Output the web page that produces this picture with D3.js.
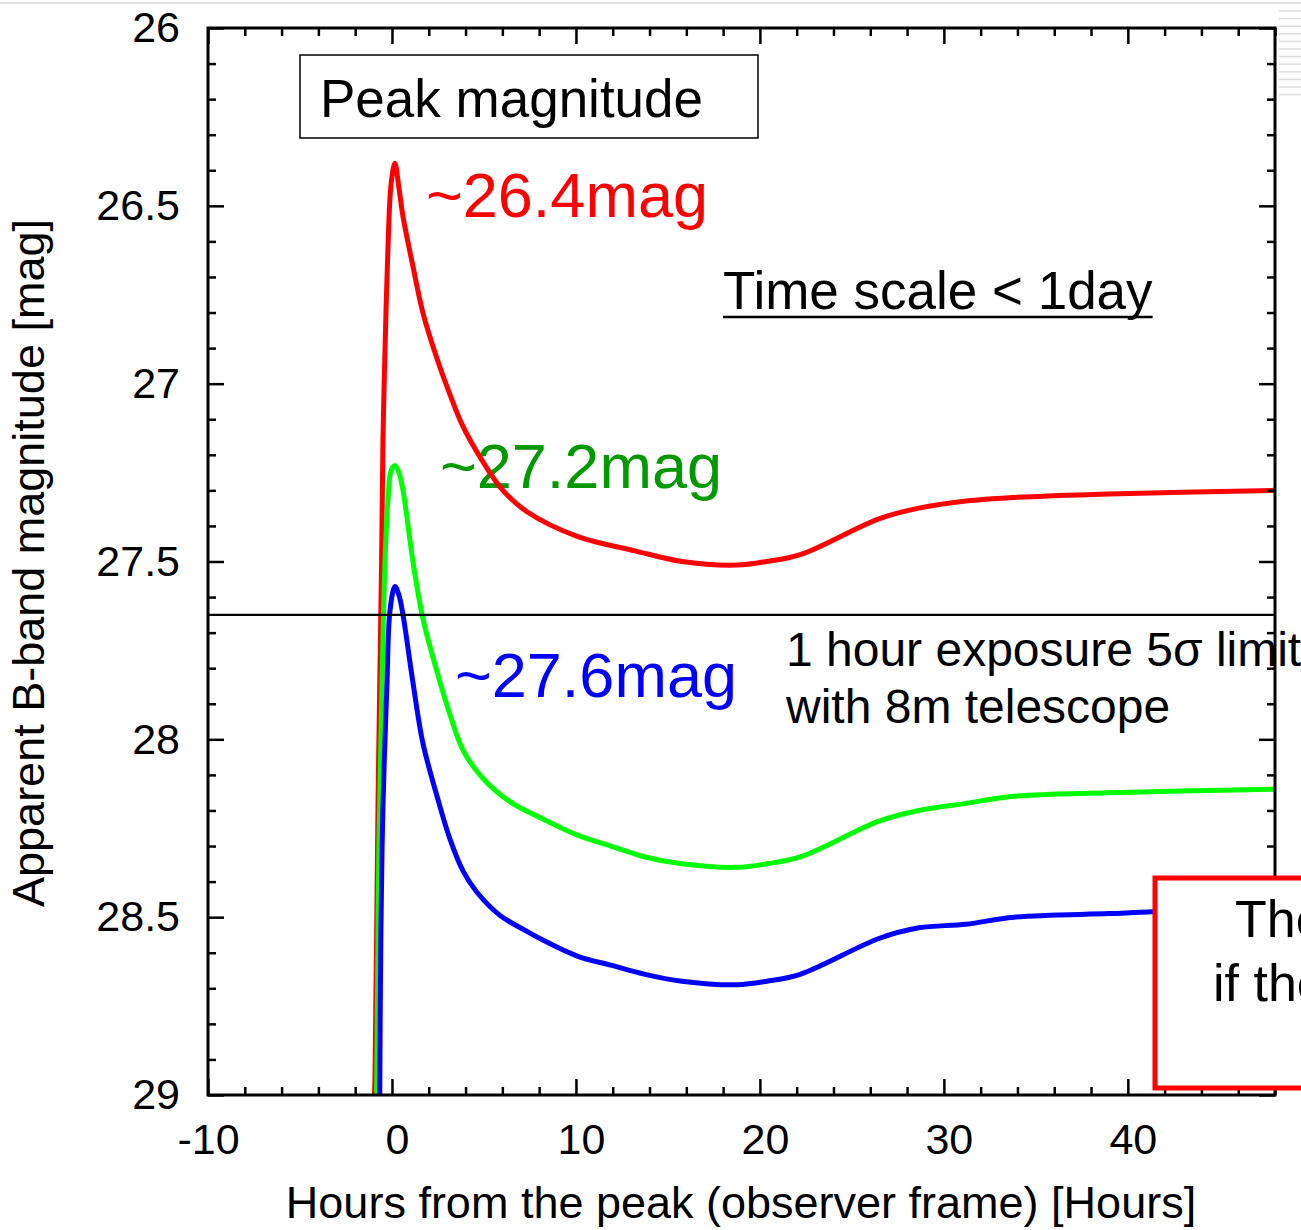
<!DOCTYPE html>
<html>
<head>
<meta charset="utf-8">
<script src="https://cdn.jsdelivr.net/npm/d3@7"></script>
<style>
    body { margin: 0; background: white; }
    svg { display: block; }
    text { font-family: "Liberation Sans", Arial, sans-serif; }
</style>
</head>
<body>
<div id="chart"></div>
<script>
// light curves (hours from peak, apparent B mag)
const hoursRed = [-0.98, -0.92, -0.76, -0.57, -0.49, -0.38, -0.22, -0.05, 0.16, 0.38, 0.6, 1.14, 1.68, 2.45, 3.15, 3.86, 4.95, 6.03, 7.34, 10.11, 13.21, 15.76, 18.75, 20.38, 22.23, 26.47, 28.64, 31.2, 33.8, 38.97, 48];
const magRed = [29.05, 28.94, 28.19, 27.52, 27.16, 26.91, 26.62, 26.44, 26.38, 26.45, 26.53, 26.67, 26.80, 26.93, 27.03, 27.12, 27.22, 27.30, 27.36, 27.43, 27.47, 27.50, 27.51, 27.50, 27.48, 27.38, 27.35, 27.33, 27.32, 27.31, 27.30];

const hoursGreen = [-0.85, -0.82, -0.71, -0.54, -0.38, -0.22, -0.05, 0.16, 0.38, 0.6, 1.14, 1.68, 2.45, 3.15, 3.86, 4.95, 6.41, 8.04, 10.11, 11.9, 13.7, 15.76, 18.75, 20.38, 22.23, 26.47, 28.64, 31.2, 33.8, 38.97, 48];
const magGreen = [29.05, 28.94, 28.30, 27.84, 27.50, 27.33, 27.245, 27.23, 27.25, 27.30, 27.50, 27.66, 27.81, 27.93, 28.03, 28.11, 28.175, 28.22, 28.27, 28.30, 28.33, 28.35, 28.36, 28.35, 28.33, 28.23, 28.20, 28.18, 28.16, 28.15, 28.14];

const hoursBlue = [-0.67, -0.6, -0.49, -0.27, -0.11, 0.16, 0.38, 0.6, 1.14, 1.68, 2.45, 3.15, 3.86, 4.62, 5.87, 7.34, 8.04, 10.11, 11.9, 13.7, 15.76, 18.75, 20.38, 22.23, 26.47, 28.64, 31.2, 33.8, 38.97, 41.4, 48];
const magBlue = [29.05, 28.53, 28.19, 27.84, 27.64, 27.57, 27.595, 27.65, 27.84, 28.01, 28.16, 28.28, 28.37, 28.43, 28.495, 28.54, 28.56, 28.61, 28.635, 28.66, 28.68, 28.69, 28.68, 28.66, 28.56, 28.53, 28.52, 28.50, 28.49, 28.485, 28.48];

const seriesColors = ["#ff0000", "#00ff00", "#0000ff"];
const peakLabels = ["~26.4mag", "~27.2mag", "~27.6mag"];
const labelColors = ["#ff0000", "#009a00", "#0000ff"];

const xMajorTicks = [-10, 0, 10, 20, 30, 40];
const yMajorTicks = [26, 26.5, 27, 27.5, 28, 28.5, 29];
const xTickLabels = ["-10", "0", "10", "20", "30", "40"];
const yTickLabels = ["26", "26.5", "27", "27.5", "28", "28.5", "29"];

const limitMag = 27.65;

const width = 1301, height = 1230;
const plot = { left: 208, right: 1275, top: 28, bottom: 1095 };

const svg = d3.select("#chart")
    .append("svg")
    .attr("width", width)
    .attr("height", height);

// slide artifacts at the edges of the screenshot
svg.append("line")
    .attr("x1", 0).attr("x2", width).attr("y1", 3).attr("y2", 3)
    .style("stroke", "#e2e2e2").style("stroke-width", 2);
svg.selectAll("line.stripe")
    .data(d3.range(12))
    .enter()
    .append("line")
    .attr("class", "stripe")
    .attr("x1", 1279).attr("x2", width)
    .attr("y1", d => 11 + d * 7.6).attr("y2", d => 11 + d * 7.6)
    .style("stroke", "#dedede").style("stroke-width", 1.5);

const x = d3.scaleLinear().domain([-10, 48]).range([plot.left, plot.right]);
const y = d3.scaleLinear().domain([26, 29]).range([plot.top, plot.bottom]);

svg.append("clipPath")
    .attr("id", "plot-clip")
    .append("rect")
    .attr("x", plot.left).attr("y", plot.top)
    .attr("width", plot.right - plot.left).attr("height", plot.bottom - plot.top);

// annotations under the curves
svg.append("rect")
    .attr("x", 300).attr("y", 55).attr("width", 458).attr("height", 83)
    .style("fill", "white").style("stroke", "black").style("stroke-width", 1.5);
svg.append("text")
    .attr("x", 320).attr("y", 117)
    .style("font-size", "53px")
    .text("Peak magnitude");

const peakPos = [[426, 217], [440, 488], [455, 697]];
svg.selectAll("text.peak")
    .data(peakLabels)
    .enter()
    .append("text")
    .attr("class", "peak")
    .attr("x", (d, i) => peakPos[i][0])
    .attr("y", (d, i) => peakPos[i][1])
    .style("font-size", "63px")
    .style("fill", (d, i) => labelColors[i])
    .text(d => d);

const ts = svg.append("text")
    .attr("x", 723).attr("y", 309)
    .style("font-size", "53px")
    .text("Time scale < 1day");
const tsLen = ts.node().getComputedTextLength();
svg.append("line")
    .attr("x1", 723).attr("x2", 723 + tsLen)
    .attr("y1", 317).attr("y2", 317)
    .style("stroke", "black").style("stroke-width", 2.5);

svg.append("text")
    .attr("x", 786).attr("y", 666)
    .style("font-size", "48px")
    .text("1 hour exposure 5σ limit");
svg.append("text")
    .attr("x", 786).attr("y", 723)
    .style("font-size", "48px")
    .text("with 8m telescope");

// curves
const curves = [
    hoursRed.map((h, i) => [h, magRed[i]]),
    hoursGreen.map((h, i) => [h, magGreen[i]]),
    hoursBlue.map((h, i) => [h, magBlue[i]])
];
const line = d3.line()
    .x(d => x(d[0]))
    .y(d => y(d[1]))
    .curve(d3.curveCatmullRom.alpha(0.5));

svg.append("g")
    .attr("clip-path", "url(#plot-clip)")
    .selectAll("path")
    .data(curves)
    .enter()
    .append("path")
    .attr("d", line)
    .style("fill", "none")
    .style("stroke", (d, i) => seriesColors[i])
    .style("stroke-width", 5)
    .style("stroke-linejoin", "round");

// 5 sigma limit
svg.append("line")
    .attr("x1", x(-10)).attr("x2", x(48))
    .attr("y1", y(limitMag)).attr("y2", y(limitMag))
    .style("stroke", "black").style("stroke-width", 2.2);

// axes: inward ticks on all four sides
const major = 16, minor = 8;
function styleAxis(g) {
    g.select(".domain").remove();
    g.selectAll("line").style("stroke", "black").style("stroke-width", 2.5);
    g.selectAll("text")
        .style("font-family", "Liberation Sans, Arial, sans-serif")
        .style("font-size", "43px")
        .style("fill", "black");
}

const xMinor = d3.range(-10, 48.01, 2).filter(v => !xMajorTicks.includes(v));
const yMinor = d3.range(26, 29.001, 0.1).map(v => +v.toFixed(1)).filter(v => !yMajorTicks.includes(v));

svg.append("g")
    .attr("class", "x axis")
    .attr("transform", `translate(0,${plot.bottom})`)
    .call(d3.axisBottom(x).tickValues(xMajorTicks)
        .tickFormat((d, i) => xTickLabels[i])
        .tickSize(-major).tickPadding(28))
    .call(styleAxis)
    .call(g => g.selectAll("text").attr("dx", d => d < 0 ? 0 : 5));
svg.append("g")
    .attr("transform", `translate(0,${plot.bottom})`)
    .call(d3.axisBottom(x).tickValues(xMinor).tickFormat("").tickSize(-minor))
    .call(styleAxis);
svg.append("g")
    .attr("transform", `translate(0,${plot.top})`)
    .call(d3.axisTop(x).tickValues(xMajorTicks).tickFormat("").tickSize(-major))
    .call(styleAxis);
svg.append("g")
    .attr("transform", `translate(0,${plot.top})`)
    .call(d3.axisTop(x).tickValues(xMinor).tickFormat("").tickSize(-minor))
    .call(styleAxis);

svg.append("g")
    .attr("class", "y axis")
    .attr("transform", `translate(${plot.left},0)`)
    .call(d3.axisLeft(y).tickValues(yMajorTicks)
        .tickFormat((d, i) => yTickLabels[i])
        .tickSize(-major).tickPadding(28))
    .call(styleAxis);
svg.append("g")
    .attr("transform", `translate(${plot.left},0)`)
    .call(d3.axisLeft(y).tickValues(yMinor).tickFormat("").tickSize(-minor))
    .call(styleAxis);
svg.append("g")
    .attr("transform", `translate(${plot.right},0)`)
    .call(d3.axisRight(y).tickValues(yMajorTicks).tickFormat("").tickSize(-major))
    .call(styleAxis);
svg.append("g")
    .attr("transform", `translate(${plot.right},0)`)
    .call(d3.axisRight(y).tickValues(yMinor).tickFormat("").tickSize(-minor))
    .call(styleAxis);

svg.append("rect")
    .attr("x", plot.left).attr("y", plot.top)
    .attr("width", plot.right - plot.left).attr("height", plot.bottom - plot.top)
    .style("fill", "none").style("stroke", "black").style("stroke-width", 3);

// axis titles
svg.append("text")
    .attr("x", 741).attr("y", 1218)
    .attr("text-anchor", "middle")
    .style("font-size", "45px")
    .text("Hours from the peak (observer frame) [Hours]");
svg.append("text")
    .attr("transform", "translate(44,563) rotate(-90)")
    .attr("text-anchor", "middle")
    .style("font-size", "45px")
    .text("Apparent B-band magnitude [mag]");

// red call-out box cut off by the slide edge
svg.append("rect")
    .attr("x", 1155).attr("y", 878).attr("width", 200).attr("height", 210)
    .style("fill", "white").style("stroke", "#ff0000").style("stroke-width", 5);
svg.append("text")
    .attr("x", 1235).attr("y", 937)
    .style("font-size", "52px")
    .text("The");
svg.append("text")
    .attr("x", 1213).attr("y", 1001)
    .style("font-size", "52px")
    .text("if the");
</script>
</body>
</html>
